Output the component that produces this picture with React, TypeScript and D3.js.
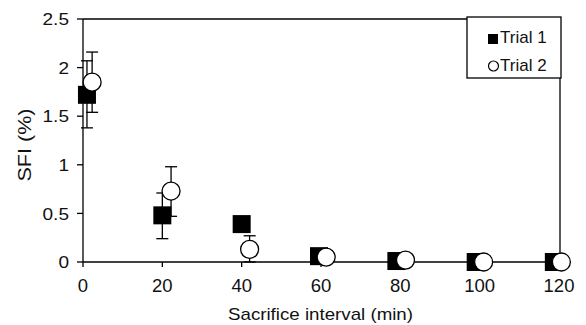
import React from "react";
import * as d3 from "d3";

const times = [0, 20, 40, 60, 80, 100, 120];
const trial1X = [1, 20, 40, 59.5, 79, 99, 118.7];
const trial1 = [1.72, 0.48, 0.39, 0.06, 0.01, 0.0, 0.0];
const trial1Hi = [2.07, 0.71, 0.39, 0.06, 0.01, 0.0, 0.0];
const trial1Lo = [1.38, 0.24, 0.39, 0.06, 0.01, 0.0, 0.0];
const trial2X = [2.3, 22.2, 42, 61.3, 81.3, 101, 120.6];
const trial2 = [1.85, 0.73, 0.13, 0.05, 0.02, 0.0, 0.0];
const trial2Hi = [2.16, 0.98, 0.27, 0.05, 0.02, 0.0, 0.0];
const trial2Lo = [1.54, 0.47, 0.0, 0.05, 0.02, 0.0, 0.0];
const yTicks = [0, 0.5, 1, 1.5, 2, 2.5];
const yTickLabels = ["0", "0.5", "1", "1.5", "2", "2.5"];
const seriesNames = ["Trial 1", "Trial 2"];

const W = 586, H = 325;
const left = 83, right = 559, top = 19, bottom = 262;
const font = "Liberation Sans, Arial, sans-serif";

export default function App() {
  const x = d3.scaleLinear().domain([0, 120]).range([left, right]);
  const y = d3.scaleLinear().domain([0, 2.5]).range([bottom, top]);
  const cap = 6;
  const sq = 18;
  const r = 9;

  const errBars = (xs: number[], hi: number[], lo: number[], key: string) =>
    xs.map((xv, i) => {
      if (hi[i] - lo[i] < 0.02) return null;
      const cx = x(xv);
      return (
        <g key={key + i} stroke="#000" strokeWidth={1.3} fill="none">
          <line x1={cx} x2={cx} y1={y(hi[i])} y2={y(lo[i])} />
          <line x1={cx - cap} x2={cx + cap} y1={y(hi[i])} y2={y(hi[i])} />
          <line x1={cx - cap} x2={cx + cap} y1={y(lo[i])} y2={y(lo[i])} />
        </g>
      );
    });

  return (
    <svg width={W} height={H} style={{ position: "absolute", left: 0, top: 0 }} fontFamily={font}>
      <rect width={W} height={H} fill="#fff" />
      <g stroke="#000" strokeWidth={1.3} fill="none">
        <line x1={left} x2={left} y1={top} y2={bottom} />
        <line x1={left} x2={right + 1} y1={bottom} y2={bottom} />
        <line x1={left} x2={right + 1} y1={top} y2={top} />
        <line x1={right + 1} x2={right + 1} y1={top} y2={bottom} />
      </g>
      {yTicks.map((t, i) => (
        <g key={"yt" + i}>
          <line x1={left - 6} x2={left} y1={y(t)} y2={y(t)} stroke="#000" strokeWidth={1.3} />
          <text
            transform={`translate(${left - 14},${y(t)}) scale(1.12,1)`}
            dy="0.36em"
            textAnchor="end"
            fontSize={17}
            fill="#111"
          >
            {yTickLabels[i]}
          </text>
        </g>
      ))}
      {times.map((t, i) => (
        <g key={"xt" + i}>
          <line x1={x(t)} x2={x(t)} y1={bottom} y2={bottom + 5} stroke="#000" strokeWidth={1.3} />
          <text x={x(t)} y={292} textAnchor="middle" fontSize={18.5} fill="#111">
            {String(t)}
          </text>
        </g>
      ))}
      <text x={320.5} y={320} textAnchor="middle" fontSize={17} textLength={185} lengthAdjust="spacingAndGlyphs" fill="#111">
        Sacrifice interval (min)
      </text>
      <text
        transform={`translate(31,145) rotate(-90)`}
        textAnchor="middle"
        fontSize={18}
        textLength={73}
        lengthAdjust="spacingAndGlyphs"
        fill="#111"
      >
        SFI (%)
      </text>
      {errBars(trial1X, trial1Hi, trial1Lo, "e1")}
      {errBars(trial2X, trial2Hi, trial2Lo, "e2")}
      {trial1X.map((xv, i) => (
        <rect key={"s" + i} x={x(xv) - sq / 2} y={y(trial1[i]) - sq / 2} width={sq} height={sq} fill="#000" />
      ))}
      {trial2X.map((xv, i) => (
        <circle key={"c" + i} cx={x(xv)} cy={y(trial2[i])} r={r} fill="#fff" stroke="#000" strokeWidth={1.3} />
      ))}
      <g>
        <rect x={467} y={17} width={94} height={61} fill="#fff" stroke="#000" strokeWidth={1.3} />
        <rect x={488} y={34} width={10} height={10} fill="#000" />
        <text x={500} y={43} fontSize={17} fill="#111">{seriesNames[0]}</text>
        <circle cx={493.5} cy={66} r={5} fill="#fff" stroke="#000" strokeWidth={1.2} />
        <text x={500} y={71} fontSize={17} fill="#111">{seriesNames[1]}</text>
      </g>
    </svg>
  );
}
